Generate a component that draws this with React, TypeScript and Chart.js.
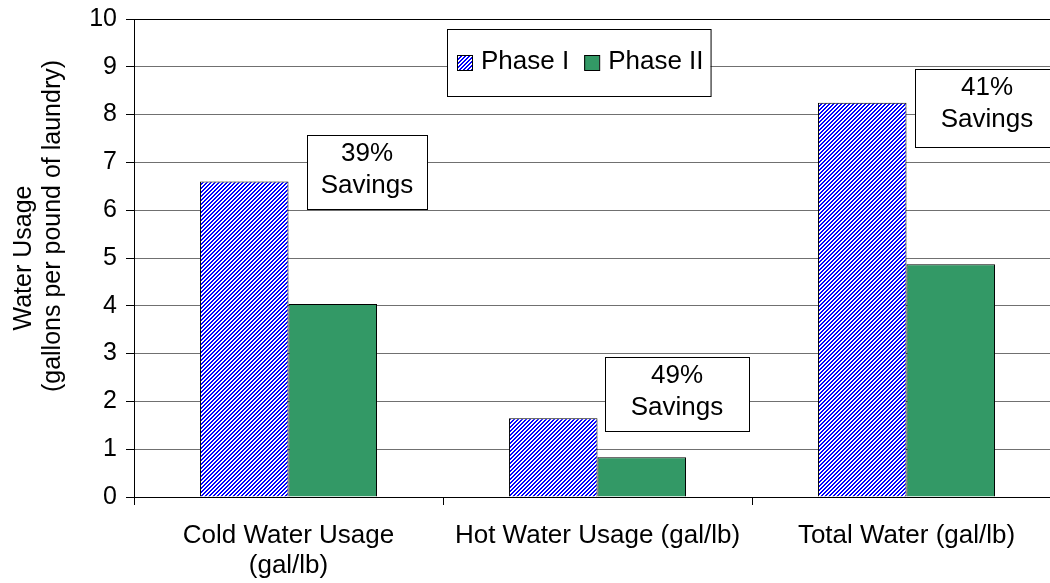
import React, { useEffect, useRef } from "react";
import { Chart, registerables } from "chart.js";

Chart.register(...registerables);

// ---- data ----
const categories: (string | string[])[] = [
  ["Cold Water Usage", "(gal/lb)"],
  "Hot Water Usage (gal/lb)",
  "Total Water (gal/lb)",
];
const seriesNames = ["Phase I", "Phase II"];
const phase1Values = [6.6, 1.65, 8.25];
const phase2Values = [4.04, 0.83, 4.87];
const savingsPercent = ["39%", "49%", "41%"];
const savingsWord = "Savings";
const yMin = 0;
const yMax = 10;
const yStep = 1;
const yTitleLines = ["Water Usage", "(gallons per pound of laundry)"];

const FONT = '"Liberation Sans", Arial, Helvetica, sans-serif';
const GREEN = "#339966";

function makeHatch(ctx: CanvasRenderingContext2D): CanvasPattern | string {
  const tile = document.createElement("canvas");
  tile.width = 4;
  tile.height = 4;
  const g = tile.getContext("2d");
  if (!g) return "#3333ff";
  const img = g.createImageData(4, 4);
  for (let y = 0; y < 4; y++) {
    for (let x = 0; x < 4; x++) {
      const i = (y * 4 + x) * 4;
      const blue = (x + y) % 4 < 2;
      img.data[i] = blue ? 0 : 255;
      img.data[i + 1] = blue ? 0 : 255;
      img.data[i + 2] = 255;
      img.data[i + 3] = 255;
    }
  }
  g.putImageData(img, 0, 0);
  return ctx.createPattern(tile, "repeat") || "#3333ff";
}

export default function App() {
  const canvasRef = useRef<HTMLCanvasElement | null>(null);

  useEffect(() => {
    const canvas = canvasRef.current;
    if (!canvas) return;
    const ctx0 = canvas.getContext("2d")!;
    const hatch = makeHatch(ctx0);
    const fills: (CanvasPattern | string)[] = [hatch, GREEN];

    const overlay = {
      id: "overlay",
      afterDraw(chart: any) {
        const { ctx, chartArea, scales } = chart;
        const xs = scales.x;
        const ys = scales.y;
        ctx.save();
        ctx.fillStyle = "#000";
        ctx.textBaseline = "middle";
        ctx.textAlign = "center";

        // y-axis title (two lines, rotated)
        ctx.font = `25px ${FONT}`;
        const mid = (chartArea.top + chartArea.bottom) / 2;
        const titlePos = [
          { x: chartArea.left - 110, y: mid },
          { x: chartArea.left - 81, y: mid - 32 },
        ];
        yTitleLines.forEach((t, i) => {
          ctx.save();
          ctx.translate(titlePos[i].x, titlePos[i].y);
          ctx.rotate(-Math.PI / 2);
          ctx.fillText(t, 0, 0);
          ctx.restore();
        });

        // savings text boxes
        const boxes = [
          { dx: 18.5, topVal: 7.57, w: 120, h: 74 },
          { dx: 7.5, topVal: 2.93, w: 144, h: 74 },
          { dx: 8.5, topVal: 8.95, w: 144, h: 78 },
        ];
        ctx.font = `26px ${FONT}`;
        boxes.forEach((b, i) => {
          const left = Math.round(xs.getPixelForValue(i) + b.dx);
          const top = Math.round(ys.getPixelForValue(b.topVal));
          ctx.fillStyle = "#fff";
          ctx.fillRect(left, top, b.w, b.h);
          ctx.strokeStyle = "#000";
          ctx.lineWidth = 1;
          ctx.strokeRect(left + 0.5, top + 0.5, b.w, b.h);
          ctx.fillStyle = "#000";
          ctx.fillText(savingsPercent[i], left + b.w / 2, top + 19);
          ctx.fillText(savingsWord, left + b.w / 2, top + 51);
        });

        // legend
        ctx.font = `26px ${FONT}`;
        ctx.textAlign = "left";
        const lx = 447;
        const ly = 29;
        const lh = 67;
        const sw = 15;
        let cx = lx + 10;
        const items: { x: number; tx: number }[] = [];
        seriesNames.forEach((name) => {
          const tw = ctx.measureText(name).width;
          items.push({ x: cx, tx: cx + 24 });
          cx = cx + 24 + tw + 15;
        });
        const lw = cx - 15 + 7 - lx;
        ctx.fillStyle = "#fff";
        ctx.fillRect(lx, ly, lw, lh);
        ctx.strokeStyle = "#000";
        ctx.strokeRect(lx + 0.5, ly + 0.5, lw, lh);
        const cy = ly + 33;
        seriesNames.forEach((name, i) => {
          ctx.fillStyle = fills[i];
          ctx.fillRect(items[i].x, cy - 7, sw, sw);
          ctx.strokeStyle = "#000";
          ctx.strokeRect(items[i].x + 0.5, cy - 7 + 0.5, sw, sw);
          ctx.fillStyle = "#000";
          ctx.fillText(name, items[i].tx, cy);
        });

        ctx.restore();
      },
    };

    const chart = new Chart(canvas, {
      type: "bar",
      data: {
        labels: categories as any,
        datasets: [
          {
            label: seriesNames[0],
            data: phase1Values,
            backgroundColor: hatch as any,
            borderColor: "#000",
            borderWidth: 1,
            categoryPercentage: 0.573,
            barPercentage: 1,
          },
          {
            label: seriesNames[1],
            data: phase2Values,
            backgroundColor: GREEN,
            borderColor: "#000",
            borderWidth: 1,
            categoryPercentage: 0.573,
            barPercentage: 1,
          },
        ],
      },
      options: {
        animation: false,
        responsive: false,
        maintainAspectRatio: false,
        layout: { padding: { left: 0, top: 19, right: 19, bottom: 0 } },
        plugins: {
          legend: { display: false },
          tooltip: { enabled: false },
        },
        scales: {
          x: {
            grid: {
              offset: true,
              drawOnChartArea: false,
              drawTicks: true,
              tickLength: 8,
              tickColor: "#000",
            },
            border: { color: "#000", width: 1 },
            ticks: {
              font: { family: FONT, size: 26, lineHeight: 1.15 },
              color: "#000",
              padding: 16,
              maxRotation: 0,
              minRotation: 0,
              autoSkip: false,
            },
            afterFit: (s: any) => {
              s.height = 86;
              s.paddingLeft = 0;
              s.paddingRight = 0;
            },
          },
          y: {
            min: yMin,
            max: yMax,
            ticks: {
              stepSize: yStep,
              font: { family: FONT, size: 25 },
              color: "#000",
              padding: 9,
            },
            grid: {
              color: (c: any) => (c.tick && c.tick.value === yMax ? "#000" : "#707070"),
              tickColor: "#000",
              tickLength: 8,
              lineWidth: 1,
            },
            border: { color: "#000", width: 1 },
            afterFit: (s: any) => {
              s.width = 134;
              s.paddingTop = 0;
              s.paddingBottom = 0;
            },
          },
        },
      },
      plugins: [overlay],
    });

    return () => {
      chart.destroy();
    };
  }, []);

  return (
    <div
      style={{
        position: "fixed",
        left: 0,
        top: 0,
        width: 1050,
        height: 583,
        overflow: "hidden",
        background: "#fff",
      }}
    >
      <canvas ref={canvasRef} width={1080} height={583} style={{ display: "block" }} />
    </div>
  );
}
